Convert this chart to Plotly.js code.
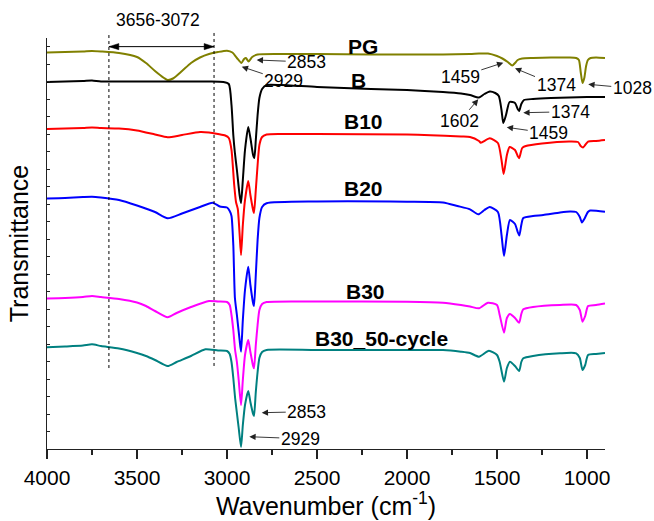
<!DOCTYPE html>
<html><head><meta charset="utf-8">
<script src="https://cdn.plot.ly/plotly-3.0.1.min.js"></script>
<style>html,body{margin:0;padding:0;background:#fff}#chart{width:654px;height:521px}</style>
</head><body><div id="chart"></div>
<script>
// Wavenumbers (cm-1) and offset transmittance (arbitrary units)
const pgWn = [4000,3900,3800,3750,3700,3600,3500,3450,3400,3350,3330,3300,3250,3200,3150,3100,3050,3000,2970,2945,2920,2905,2895,2880,2860,2830,2700,2500,2200,2000,1800,1650,1600,1550,1500,1470,1440,1415,1400,1385,1360,1300,1200,1100,1060,1045,1035,1025,1015,1005,995,980,950,900];
const pgT  = [396.5,397,397.5,398,397.5,396,392,386,378,371,369,370.5,378,386,391.5,395,397,398.3,396.5,391,386,390,391,387.5,392,394.5,395,395,394.5,394.5,394.5,395,395.5,395.5,393,390.5,387,383.5,386,389,390.5,391,391.5,391.5,391,389,377,366,371,383,389,391,391.5,391];

const bWn = [4000,3900,3800,3750,3700,3500,3300,3100,3020,2990,2975,2965,2956,2945,2930,2922,2912,2900,2882,2870,2855,2848,2840,2830,2820,2805,2780,2700,2500,2200,2000,1800,1700,1650,1600,1570,1540,1510,1490,1475,1465,1450,1430,1400,1385,1377,1365,1350,1300,1200,1100,1000,900];
const bT  = [367,367.5,368,368.5,367.5,367.5,367.5,367.5,367,365,344,314,296,279,254,246,269,299,322,311,294,291,309,334,351,360,364,364,362,360,359,357,355.5,354,351.5,355,357.5,356,353,339,326,334,347,346,340,338,345,349,350,351,351.5,352,352];

const b10Wn = [4000,3900,3800,3750,3700,3600,3500,3400,3330,3250,3150,3100,3050,3010,2990,2975,2960,2950,2940,2930,2922,2912,2900,2882,2870,2855,2850,2840,2830,2820,2805,2780,2700,2500,2000,1700,1650,1600,1590,1540,1495,1475,1463,1445,1430,1400,1385,1377,1360,1340,1250,1100,1050,1035,1022,1010,994,950,900];
const b10T  = [320,320.5,321,321.5,321,320.5,318.5,314.5,311.7,314,317,316.5,315,313.5,311,299,264,247,240,215,194,224,249,268,254,239,236,259,284,304,312,314.5,315,315,314.5,312.5,312,308,306.3,310.7,306,289,275,294,302,299,293,290.7,301,303,305.5,307.5,307,303,301.5,304,307.3,308,309];

const b20Wn = [4000,3900,3800,3750,3700,3600,3500,3400,3330,3250,3150,3080,3040,3000,2985,2975,2965,2956,2945,2930,2922,2912,2900,2882,2870,2855,2850,2840,2830,2820,2805,2780,2500,2000,1800,1720,1650,1604,1570,1540,1495,1475,1461,1445,1428,1400,1385,1376,1365,1354,1300,1243,1150,1094,1060,1040,1028,1015,995,983,900];
const b20T  = [250.5,251,252,252.3,251.5,249,243.5,237,230.7,235.5,242,246.3,242.5,241.5,238,233,204,151,134,109,97.3,129,159,182.3,164,146,143,174,209,231,242,245.7,247.5,247.3,246.5,243,239.7,234.7,239,242,237,214,193,214,229,225,217,213.5,224,231,233,234,236.5,237.5,237,232,226.5,230,237,238.5,237.3];

const b30Wn = [4000,3900,3800,3750,3700,3600,3500,3450,3400,3330,3280,3200,3100,3050,3000,2985,2975,2965,2955,2945,2935,2922,2912,2900,2882,2870,2855,2850,2840,2830,2820,2805,2780,2500,2000,1800,1700,1650,1600,1550,1500,1485,1461,1445,1428,1400,1377,1365,1354,1300,1150,1060,1040,1025,1010,994,950,900];
const b30T  = [150.5,151,152,153,152,150,146.5,143,138,131.7,136,142,148,147.5,147,144,134,119,99,87,69,44,69,94,109,97,83,80.7,104,124,139,145,147,147.5,147.3,146.3,144,142.5,140.7,146.3,144,134,116.3,131,135,131,126.3,135,139.7,142,144,144,139,127.3,133,143,144,145.5];

const b30cWn = [4000,3900,3800,3750,3700,3600,3500,3450,3400,3330,3280,3200,3120,3050,3000,2985,2975,2965,2955,2945,2935,2922,2912,2900,2882,2870,2855,2850,2840,2830,2820,2805,2780,2500,2000,1800,1700,1650,1600,1545,1500,1485,1461,1445,1428,1400,1377,1365,1354,1300,1150,1060,1040,1025,1010,994,950,900];
const b30cT  = [101.7,102.5,103.5,104.7,103,100.5,96,93,89,83,87,93,99.7,98.5,98,95,87,71,51,36,21,2,24,44,58,47,35,33,57,77,91,97,99,99,99,99,97.3,96,92.3,98.3,94,87,67.3,81,87.3,83,78,87,90.7,93,95.7,95.7,91,79,84,94,95,96];

const seriesNames = ['PG','B','B10','B20','B30','B30_50-cycle'];
const seriesWn = [pgWn,bWn,b10Wn,b20Wn,b30Wn,b30cWn];
const seriesT = [pgT,bT,b10T,b20T,b30T,b30cT];
const seriesColors = ['#808000','#000000','#ff0000','#0000ff','#ff00ff','#008080'];

const xTickVals = [4000,3500,3000,2500,2000,1500,1000];
const rangeLabel = '3656-3072';
const rangeEdges = [3656,3072];

const FONT = 'Arial, "Liberation Sans", sans-serif';

const traces = seriesNames.map((n,i)=>({
  type:'scatter', mode:'lines', name:n, x:seriesWn[i], y:seriesT[i],
  line:{color:seriesColors[i], width:2, shape:'spline', smoothing:0.6}, hoverinfo:'skip'
}));

// curve labels (wavenumber, transmittance position)
const labelPos = [[2246,403],[2270,369],[2244,327.3],[2239,260.7],[2228,158],[2144,111]];
const annotations = seriesNames.map((n,i)=>({
  text:'<b>'+n+'</b>', x:labelPos[i][0], y:labelPos[i][1], xref:'x', yref:'y',
  showarrow:false, font:{family:FONT, size:21, color:'#000'}, xanchor:'center', yanchor:'middle'
}));

// peak labels: text, head wavenumber, head transmittance, text offset (px)
const peaks = [
  ['2853',2835,389,50,2],
  ['2929',2918,382.3,42,14],
  ['1459',1465,386.3,-43,14],
  ['1374',1400,380.7,41,17],
  ['1028',993,364.7,44,4],
  ['1602',1604,349.7,-19,22],
  ['1374',1354,336.3,47,-1],
  ['1459',1446,321.7,42,6],
  ['2853',2807,36.3,45,-1],
  ['2929',2876,12.3,51,2]
];
peaks.forEach(p=>annotations.push({
  text:p[0], x:p[1], y:p[2], xref:'x', yref:'y', ax:p[3], ay:p[4],
  showarrow:true, arrowhead:2, arrowsize:1.4, arrowwidth:0.9, arrowcolor:'#222',
  font:{family:FONT, size:17.5, color:'#000'}, standoff:0
}));

annotations.push({
  text:rangeLabel, x:(rangeEdges[0]+rangeEdges[1])/2 + 20, y:1.0438, xref:'x', yref:'paper',
  showarrow:false, font:{family:FONT, size:17.5, color:'#000'}, xanchor:'center', yanchor:'middle'
});

// double-headed arrow between the dotted range lines
const arrY = 0.979, headLen = 55, headHalf = 0.0075;
const shapes = [
  {type:'line', xref:'x', yref:'paper', x0:rangeEdges[0], x1:rangeEdges[0], y0:0.197, y1:1.0146, line:{color:'#000', width:1, dash:'dot'}},
  {type:'line', xref:'x', yref:'paper', x0:rangeEdges[1], x1:rangeEdges[1], y0:0.202, y1:1.0146, line:{color:'#000', width:1, dash:'dot'}},
  {type:'line', xref:'x', yref:'paper', x0:rangeEdges[0], x1:rangeEdges[1], y0:arrY, y1:arrY, line:{color:'#000', width:1}},
  {type:'path', xref:'x', yref:'paper', fillcolor:'#000', line:{color:'#000', width:0.5},
   path:'M '+rangeEdges[0]+','+arrY+' L '+(rangeEdges[0]-headLen)+','+(arrY+headHalf)+' L '+(rangeEdges[0]-headLen)+','+(arrY-headHalf)+' Z'},
  {type:'path', xref:'x', yref:'paper', fillcolor:'#000', line:{color:'#000', width:0.5},
   path:'M '+rangeEdges[1]+','+arrY+' L '+(rangeEdges[1]+headLen)+','+(arrY+headHalf)+' L '+(rangeEdges[1]+headLen)+','+(arrY-headHalf)+' Z'}
];

const layout = {
  width:654, height:521,
  margin:{l:47, r:49, t:38, b:72},
  paper_bgcolor:'#fff', plot_bgcolor:'#fff',
  showlegend:false,
  font:{family:FONT, color:'#000'},
  xaxis:{
    range:[4000,900], showgrid:false, zeroline:false,
    showline:true, linecolor:'#222', linewidth:1.3, mirror:false,
    ticks:'outside', ticklen:9, tickwidth:1.3, tickcolor:'#222',
    tickmode:'array', tickvals:xTickVals, ticktext:xTickVals.map(String),
    tickfont:{family:FONT, size:21, color:'#000'},
    minor:{ticks:'outside', ticklen:5, tickwidth:1.3, tickcolor:'#222', dtick:250, tick0:0, showgrid:false},
    title:{text:'Wavenumber (cm<sup>-1</sup>)', font:{family:FONT, size:25, color:'#000'}, standoff:6}
  },
  yaxis:{
    range:[0,411], showgrid:false, zeroline:false,
    showline:true, linecolor:'#222', linewidth:1.3,
    ticks:'inside', ticklen:3, tickwidth:1, tickcolor:'#222',
    tick0:0, dtick:17.5, showticklabels:false,
    title:{text:'Transmittance', font:{family:FONT, size:25, color:'#000'}, standoff:10}
  },
  annotations:annotations,
  shapes:shapes
};

Plotly.newPlot('chart', traces, layout, {displayModeBar:false, staticPlot:true});
</script>
</body></html>
